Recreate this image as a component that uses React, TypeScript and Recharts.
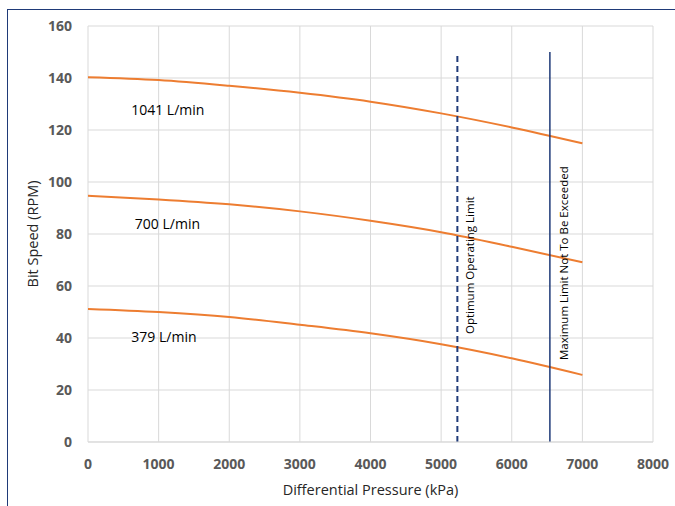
import {
  LineChart,
  Line,
  XAxis,
  YAxis,
  CartesianGrid,
  ReferenceLine,
  ReferenceDot,
} from "recharts";

const pressure = [0, 1000, 2000, 3000, 4000, 5000, 6000, 7000];
const flow1041 = [140.3, 139.2, 137, 134.3, 130.9, 126.4, 121, 114.9];
const flow700 = [94.7, 93.3, 91.4, 88.7, 85.1, 80.7, 75.1, 69.1];
const flow379 = [51.2, 50, 48.1, 45.1, 41.8, 37.6, 32.2, 25.8];

const xTicks = [0, 1000, 2000, 3000, 4000, 5000, 6000, 7000, 8000];
const yTicks = [0, 20, 40, 60, 80, 100, 120, 140, 160];

const optimumLimit = 5230;
const maximumLimit = 6540;
const limitTop = 150;

const curveLabels = [
  { x: 1130, y: 127.7, text: "1041 L/min" },
  { x: 1125, y: 83.8, text: "700 L/min" },
  { x: 1075, y: 40.5, text: "379 L/min" },
];

const limitLabels = [
  { x: 5405, y: 68, text: "Optimum Operating Limit" },
  { x: 6745, y: 68.8, text: "Maximum Limit Not To Be Exceeded" },
];

const data = pressure.map((p, i) => ({
  p,
  a: flow1041[i],
  b: flow700[i],
  c: flow379[i],
}));

const font = "'Open Sans', 'Liberation Sans', sans-serif";
const orange = "#ED7D31";
const navy = "#1F3A78";
const tickStyle = { fill: "#595959", fontSize: 14, fontWeight: 700, fontFamily: font };

export default function App() {
  return (
    <div
      style={{
        position: "absolute",
        left: 0,
        top: 0,
        width: 675,
        height: 506,
        background: "#fff",
        overflow: "hidden",
        fontFamily: font,
      }}
    >
      <div
        style={{
          position: "absolute",
          left: 7,
          top: 9,
          width: 700,
          height: 600,
          borderLeft: `1.5px solid ${navy}`,
          borderTop: `1.5px solid ${navy}`,
        }}
      />
      <div style={{ position: "absolute", left: 0, top: 0 }}>
        <LineChart
          width={675}
          height={506}
          data={data}
          margin={{ top: 26, right: 22, bottom: 0, left: 0 }}
        >
          <CartesianGrid stroke="#d9d9d9" strokeWidth={1} />
          <XAxis
            dataKey="p"
            type="number"
            domain={[0, 8000]}
            ticks={xTicks}
            height={64}
            tickLine={false}
            tickSize={0}
            tickMargin={17}
            axisLine={{ stroke: "#d9d9d9" }}
            tick={tickStyle}
            interval={0}
            label={{
              value: "Differential Pressure (kPa)",
              position: "center",
              dy: 16,
              fill: "#262626",
              fontSize: 14.5,
              fontFamily: font,
            }}
          />
          <YAxis
            type="number"
            domain={[0, 160]}
            ticks={yTicks}
            width={88}
            tickLine={false}
            tickSize={0}
            tickMargin={16}
            axisLine={false}
            tick={tickStyle}
            interval={0}
            label={{
              value: "Bit Speed (RPM)",
              angle: -90,
              position: "center",
              dx: -11,
              fill: "#262626",
              fontSize: 14.5,
              fontFamily: font,
            }}
          />
          <Line
            type="monotone"
            dataKey="a"
            stroke={orange}
            strokeWidth={2}
            dot={false}
            isAnimationActive={false}
          />
          <Line
            type="monotone"
            dataKey="b"
            stroke={orange}
            strokeWidth={2}
            dot={false}
            isAnimationActive={false}
          />
          <Line
            type="monotone"
            dataKey="c"
            stroke={orange}
            strokeWidth={2}
            dot={false}
            isAnimationActive={false}
          />
          <ReferenceLine
            segment={[
              { x: optimumLimit, y: 0 },
              { x: optimumLimit, y: limitTop },
            ]}
            stroke={navy}
            strokeWidth={2}
            strokeDasharray="6 4"
          />
          <ReferenceLine
            segment={[
              { x: maximumLimit, y: 0 },
              { x: maximumLimit, y: limitTop },
            ]}
            stroke={navy}
            strokeWidth={1.5}
          />
          {curveLabels.map((l) => (
            <ReferenceDot
              key={l.text}
              x={l.x}
              y={l.y}
              r={0}
              fill="none"
              stroke="none"
              label={{
                value: l.text,
                position: "center",
                fill: "#000",
                fontSize: 14,
                fontFamily: font,
              }}
            />
          ))}
          {limitLabels.map((l) => (
            <ReferenceDot
              key={l.text}
              x={l.x}
              y={l.y}
              r={0}
              fill="none"
              stroke="none"
              label={{
                value: l.text,
                position: "center",
                angle: -90,
                fill: "#000",
                fontSize: 11.5,
                fontFamily: font,
              }}
            />
          ))}
        </LineChart>
      </div>
    </div>
  );
}
